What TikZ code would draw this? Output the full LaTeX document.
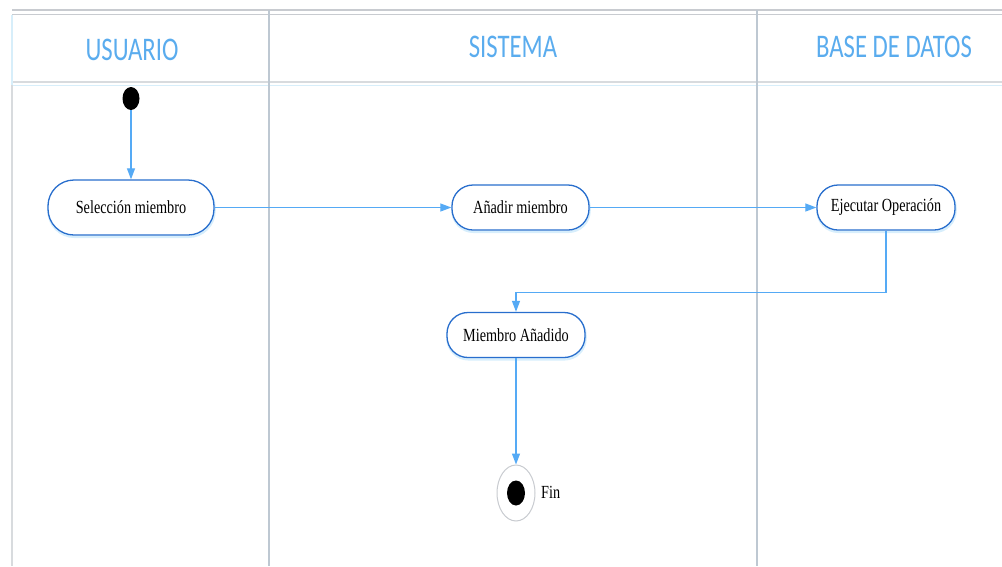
\documentclass[tikz,border=0pt]{standalone}
\usepackage{fontspec}
\usetikzlibrary{arrows.meta,shapes.geometric,shadows}
\newfontfamily\hdfont[FakeStretch=0.75]{Carlito}
\newfontfamily\bxfont[FakeStretch=0.77]{Liberation Serif}
\definecolor{titleblue}{RGB}{90,172,238}
\definecolor{flowblue}{RGB}{85,170,245}
\definecolor{boxblue}{RGB}{40,110,205}
\definecolor{glowblue}{RGB}{215,238,252}
\definecolor{gridgray}{RGB}{200,203,208}
\definecolor{laneline}{RGB}{190,200,210}
\definecolor{paleblue}{RGB}{215,238,250}
\tikzset{
  lanetitle/.style={text=titleblue, font=\hdfont\fontsize{33}{36}\selectfont},
  actbox/.style={draw=boxblue, line width=1.3pt, fill=white, rounded corners=21pt,
    minimum height=45pt, inner sep=0pt, font=\bxfont\fontsize{18.5}{20}\selectfont,
    general shadow={draw=glowblue, line width=2.5pt, shadow yshift=-1.8pt, shadow xshift=0.5pt}},
  flow/.style={draw=flowblue, line width=1.2pt, -{Triangle[length=11pt,width=8pt]}},
  startdot/.style={ellipse, fill=black, minimum width=17pt, minimum height=23pt, inner sep=0pt},
}
\begin{document}
\begin{tikzpicture}[x=1pt,y=-1pt]
\useasboundingbox (0,0) rectangle (1002,566);
% swimlane frame
\draw[gridgray, line width=1.2pt] (12,10) -- (1002,10);
\draw[gridgray, line width=1.2pt] (12,14.5) -- (1002,14.5);
\draw[gridgray!70, line width=1.5pt] (12,82) -- (1002,82);
\draw[paleblue, line width=1pt] (12,85.5) -- (1002,85.5);
\draw[paleblue, line width=2pt] (12,15) -- (12,85);
\draw[gridgray!70, line width=1.2pt] (12,85) -- (12,566);
\draw[laneline, line width=1.6pt] (269,10) -- (269,566);
\draw[laneline, line width=1.6pt] (757,10) -- (757,566);
% lane titles
\node[lanetitle] (tu) at (132,50) {USUARIO};
\node[lanetitle] (ts) at (513,47) {SISTEMA};
\node[lanetitle] (tb) at (894,47) {BASE DE DATOS};
% nodes
\node[startdot] (init) at (131,98.5) {};
\node[actbox, minimum width=166pt, minimum height=55pt, rounded corners=26pt] (sel) at (131,207.5) {Selección miembro};
\node[actbox, minimum width=137pt] (anad) at (520.5,207.5) {Añadir miembro};
\node[actbox, minimum width=138pt] (ejec) at (886,207.5) {Ejecutar Operación};
\node[actbox, minimum width=138pt] (miem) at (516,335) {Miembro Añadido};
\node[ellipse, draw=gridgray, line width=1pt, minimum width=38pt, minimum height=56pt, inner sep=0pt] (fin) at (516,493) {};
\node[ellipse, fill=black, minimum width=18pt, minimum height=25pt, inner sep=0pt] (findot) at (fin.center) {};
\node[anchor=west, font=\bxfont\fontsize{18.5}{20}\selectfont, inner sep=0pt] (finlbl) at (541,492) {Fin};
\coordinate (k1) at (886,292.5);
% connectors
\draw[flow] (init) -- (sel);
\draw[flow] (sel) -- (anad);
\draw[flow] (anad) -- (ejec);
\draw[flow] (ejec.south) -- (k1) -| (miem.north);
\draw[flow] (miem) -- (fin);
\end{tikzpicture}
\end{document}
